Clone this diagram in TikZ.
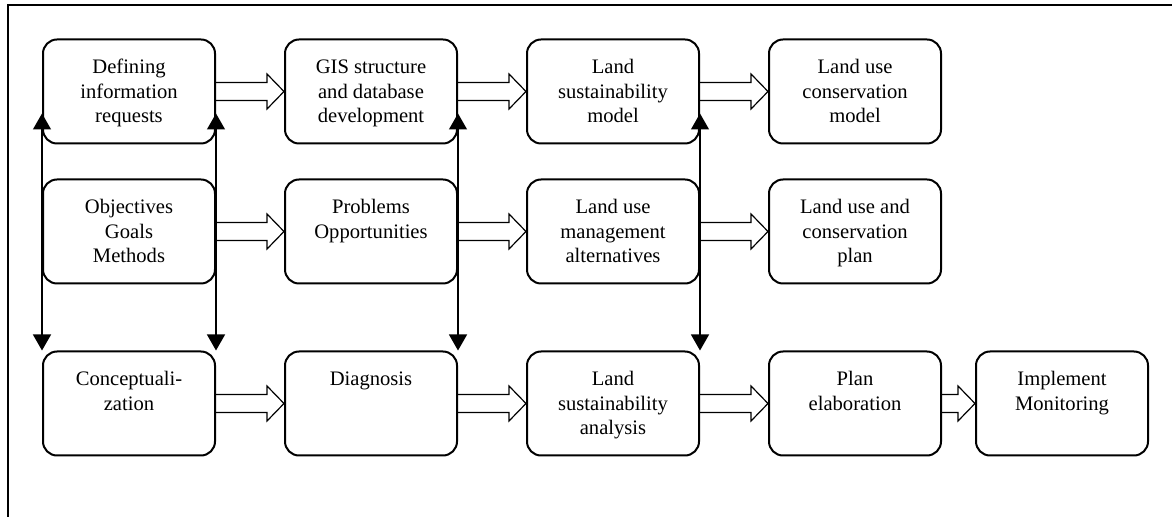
\documentclass[tikz,border=0pt]{standalone}
\usepackage{fontspec}
\setmainfont{Liberation Serif}
\usetikzlibrary{arrows.meta,positioning,calc}
\newcommand{\stagetxt}[1]{\parbox[c][52pt][t]{86pt}{\centering\rule{0pt}{17pt}#1}}

\begin{document}
\begin{tikzpicture}[
  stage/.style={draw, line width=1pt, rounded corners=7pt, minimum width=86pt, minimum height=52pt,
    inner sep=0pt, font=\fontsize{10.3}{12.3}\selectfont},
  linkarr/.style={{Triangle[length=8pt,width=9pt]}-{Triangle[length=8pt,width=9pt]}, line width=0.6pt},
  flowarr/.style={draw, line width=0.6pt},
]
\useasboundingbox (0,0) rectangle (586pt,-258.5pt);
% frame (only top and left edges show)
\draw[line width=1.2pt] (4pt,-258.5pt) -- (4pt,-2.6pt) -- (586pt,-2.6pt);

% row 1
\node[stage] (b11) at (64.5pt,-45.75pt) {\stagetxt{Defining\\information\\requests}};
\node[stage, right=34pt of b11] (b12) {\stagetxt{GIS structure\\and database\\development}};
\node[stage, right=34pt of b12] (b13) {\stagetxt{Land\\sustainability\\model}};
\node[stage, right=34pt of b13] (b14) {\stagetxt{Land use\\conservation\\model}};
% row 2
\node[stage, below=17pt of b11] (b21) {\stagetxt{Objectives\\Goals\\Methods}};
\node[stage, right=34pt of b21] (b22) {\stagetxt{Problems\\Opportunities}};
\node[stage, right=34pt of b22] (b23) {\stagetxt{Land use\\management\\alternatives}};
\node[stage, right=34pt of b23] (b24) {\stagetxt{Land use and\\conservation\\plan}};
% row 3
\node[stage, below=33pt of b21] (b31) {\stagetxt{Conceptuali-\\zation}};
\node[stage, right=34pt of b31] (b32) {\stagetxt{Diagnosis}};
\node[stage, right=34pt of b32] (b33) {\stagetxt{Land\\sustainability\\analysis}};
\node[stage, right=34pt of b33] (b34) {\stagetxt{Plan\\elaboration}};
\node[stage, right=16.5pt of b34] (b35) {\stagetxt{Implement\\Monitoring}};

% vertical links
\foreach \a/\b/\s in {b11/b31/west, b11/b31/east, b12/b32/east, b13/b33/east}
  \draw[linkarr] ([yshift=15.5pt]\a.south \s) -- (\b.north \s);

% hollow block arrows
\foreach \a/\b in {b11/b12,b12/b13,b13/b14,b21/b22,b22/b23,b23/b24,b31/b32,b32/b33,b33/b34,b34/b35}
  \draw[flowarr] ($(\a.east)+(0,4.5pt)$) -- ($(\b.west)+(-8.5pt,4.5pt)$) -- ($(\b.west)+(-8.5pt,8.75pt)$)
    -- (\b.west) -- ($(\b.west)+(-8.5pt,-8.75pt)$) -- ($(\b.west)+(-8.5pt,-4.5pt)$)
    -- ($(\a.east)+(0,-4.5pt)$);
\end{tikzpicture}
\end{document}
